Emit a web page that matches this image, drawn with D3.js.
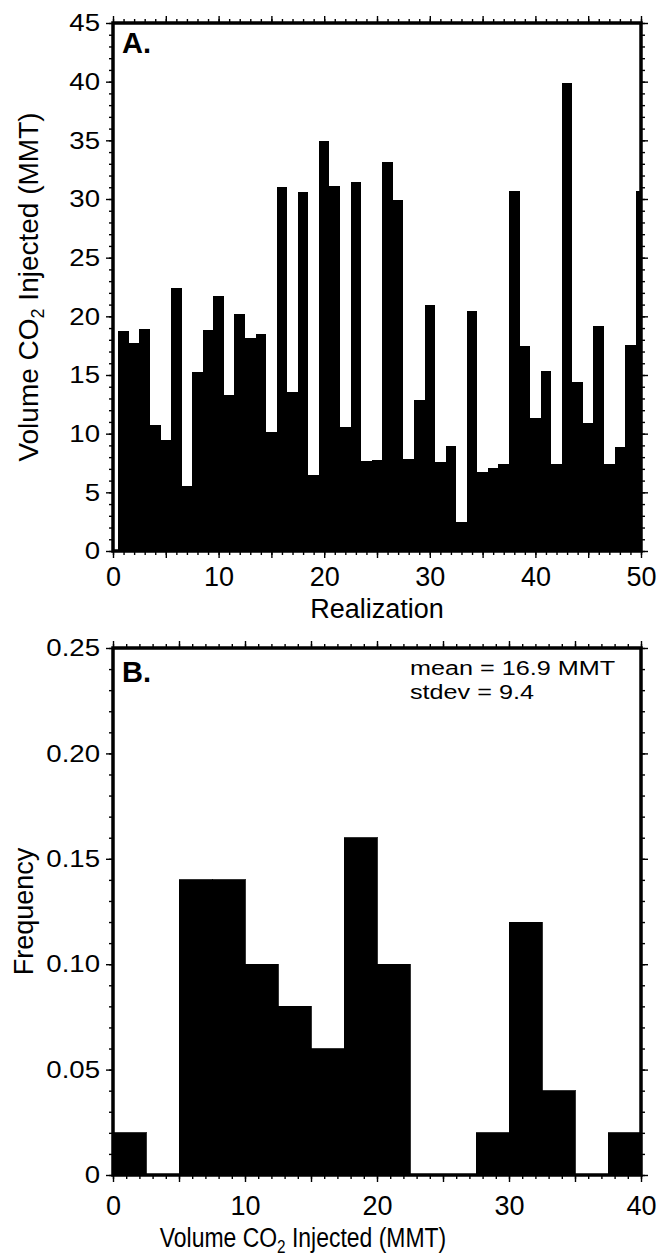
<!DOCTYPE html>
<html>
<head>
<meta charset="utf-8">
<script src="https://cdn.jsdelivr.net/npm/d3@7"></script>
<style>
body { margin: 0; background: #fff; }
svg { display: block; font-family: "Liberation Sans", Arial, Helvetica, sans-serif; }
</style>
</head>
<body>
<div id="wrapper"></div>
<script>
// panel A: injected volume for each realization (1..50)
const volumes = [
    18.75, 17.76, 18.92, 10.74, 9.46, 22.42, 5.57, 15.26, 18.84, 21.73,
    13.3, 20.2, 18.15, 18.49, 10.14, 31.02, 13.55, 30.6, 6.48, 34.94,
    31.1, 10.6, 31.45, 7.67, 7.76, 33.15, 29.9, 7.84, 12.87, 20.97,
    7.59, 8.95, 2.47, 20.45, 6.73, 7.07, 7.4, 30.68, 17.47, 11.34,
    15.34, 7.41, 39.89, 14.4, 10.91, 19.18, 7.45, 8.86, 17.56, 30.68,
]
const yLabelsA = [0, 5, 10, 15, 20, 25, 30, 35, 40, 45]
const xLabelsA = [0, 10, 20, 30, 40, 50]

// panel B: histogram of the same volumes
const binEdges = [0, 2.5, 5, 7.5, 10, 12.5, 15, 17.5, 20, 22.5, 25, 27.5, 30, 32.5, 35, 37.5, 40]
const frequency = [0.02, 0, 0.14, 0.14, 0.10, 0.08, 0.06, 0.16, 0.10, 0, 0, 0.02, 0.12, 0.04, 0, 0.02]
const yLabelsB = [0, 0.05, 0.10, 0.15, 0.20, 0.25]
const xLabelsB = [0, 10, 20, 30, 40]
const statsText = ["mean = 16.9 MMT", "stdev = 9.4"]

const dimensions = {
    width: 659,
    height: 1258,
    left: 113,
    right: 641,
    a: { top: 23, bottom: 551 },
    b: { top: 648, bottom: 1175 },
}

const svg = d3.select("#wrapper")
    .append("svg")
    .attr("width", dimensions.width)
    .attr("height", dimensions.height)

// tick marks on all four sides, major + minor, no labels
function drawTicks(g, x, y, xMajor, xMinor, yMajor, yMinor) {
    const [x0, x1] = x.range()
    const [y1, y0] = y.range()
    const add = (axis, tr, vals, size) => g.append("g")
        .attr("transform", tr)
        .call(axis.tickValues(vals).tickSize(size).tickFormat(""))
        .call(s => s.select(".domain").remove())
        .call(s => s.selectAll("line").attr("stroke-width", 1.4))
    add(d3.axisLeft(y), `translate(${x0},0)`, yMinor, 4)
    add(d3.axisLeft(y), `translate(${x0},0)`, yMajor, 7)
    add(d3.axisRight(y), `translate(${x1},0)`, yMinor, 4)
    add(d3.axisRight(y), `translate(${x1},0)`, yMajor, 7)
    add(d3.axisTop(x), `translate(0,${y0})`, xMinor, 4)
    add(d3.axisTop(x), `translate(0,${y0})`, xMajor, 7)
    add(d3.axisBottom(x), `translate(0,${y1})`, xMinor, 4)
    add(d3.axisBottom(x), `translate(0,${y1})`, xMajor, 7)
}

function drawLabels(g, x, y, xVals, yVals, yFmt, xBase) {
    const [x0] = x.range()
    const [y1] = y.range()
    g.append("g")
        .attr("transform", `translate(${x0},0)`)
        .call(d3.axisLeft(y).tickValues(yVals).tickSize(0).tickFormat(yFmt))
        .call(s => s.select(".domain").remove())
        .call(s => s.selectAll("text")
            .attr("x", -13 / 1.15)
            .attr("transform", "scale(1.15,1)")
            .style("font-size", "24px")
            .attr("fill", "#000"))
    g.append("g")
        .attr("transform", `translate(0,${y1})`)
        .call(d3.axisBottom(x).tickValues(xVals).tickSize(0).tickFormat(d3.format("d")))
        .call(s => s.select(".domain").remove())
        .call(s => s.selectAll("text")
            .attr("y", xBase)
            .attr("dy", null)
            .style("font-size", "27px")
            .attr("fill", "#000"))
}

function drawPanelA() {
    const xScale = d3.scaleLinear().domain([0, 50]).range([dimensions.left, dimensions.right])
    const yScale = d3.scaleLinear().domain([0, 45]).range([dimensions.a.bottom, dimensions.a.top])
    const g = svg.append("g")

    g.append("clipPath").attr("id", "clipA")
        .append("rect")
        .attr("x", dimensions.left).attr("y", dimensions.a.top)
        .attr("width", dimensions.right - dimensions.left)
        .attr("height", dimensions.a.bottom - dimensions.a.top)

    g.append("g")
        .attr("clip-path", "url(#clipA)")
        .selectAll("rect")
        .data(volumes)
        .enter()
        .append("rect")
        .attr("x", (d, i) => xScale(i + 0.5))
        .attr("width", (d, i) => xScale(i + 1.5) - xScale(i + 0.5))
        .attr("y", d => yScale(d))
        .attr("height", d => yScale(0) - yScale(d))
        .attr("fill", "#000")
        .attr("shape-rendering", "crispEdges")

    drawTicks(g, xScale, yScale, xScale.ticks(10), xScale.ticks(50), yScale.ticks(9), yScale.ticks(45))
    drawLabels(g, xScale, yScale, xLabelsA, yLabelsA, d3.format("d"), 35)

    g.append("rect")
        .attr("x", dimensions.left).attr("y", dimensions.a.top)
        .attr("width", dimensions.right - dimensions.left)
        .attr("height", dimensions.a.bottom - dimensions.a.top)
        .attr("fill", "none").attr("stroke", "#000").attr("stroke-width", 3.5)

    g.append("text")
        .attr("x", 122).attr("y", 53)
        .style("font-size", "29px").style("font-weight", "bold")
        .text("A.")

    const yt = g.append("text")
        .attr("transform", `translate(38,${(dimensions.a.top + dimensions.a.bottom) / 2}) rotate(-90)`)
        .attr("text-anchor", "middle")
        .style("font-size", "28px")
    yt.append("tspan").text("Volume CO")
    yt.append("tspan").attr("dy", 6).style("font-size", "18px").text("2")
    yt.append("tspan").attr("dy", -6).text(" Injected (MMT)")

    g.append("text")
        .attr("x", (dimensions.left + dimensions.right) / 2).attr("y", 618)
        .attr("text-anchor", "middle")
        .style("font-size", "27px")
        .text("Realization")
}

function drawPanelB() {
    const xScale = d3.scaleLinear().domain([0, 40]).range([dimensions.left, dimensions.right])
    const yScale = d3.scaleLinear().domain([0, 0.25]).range([dimensions.b.bottom, dimensions.b.top])
    const g = svg.append("g")

    g.append("g")
        .selectAll("rect")
        .data(frequency)
        .enter()
        .append("rect")
        .attr("x", (d, i) => xScale(binEdges[i]))
        .attr("width", (d, i) => xScale(binEdges[i + 1]) - xScale(binEdges[i]))
        .attr("y", d => yScale(d))
        .attr("height", d => yScale(0) - yScale(d))
        .attr("fill", "#000")
        .attr("stroke", "#000")
        .attr("stroke-width", 0.8)
        .attr("shape-rendering", "crispEdges")

    drawTicks(g, xScale, yScale, xScale.ticks(8), xScale.ticks(40), yScale.ticks(5), yScale.ticks(25))
    drawLabels(g, xScale, yScale, xLabelsB, yLabelsB, d => d === 0 ? "0" : d3.format(".2f")(d), 40)

    g.append("rect")
        .attr("x", dimensions.left).attr("y", dimensions.b.top)
        .attr("width", dimensions.right - dimensions.left)
        .attr("height", dimensions.b.bottom - dimensions.b.top)
        .attr("fill", "none").attr("stroke", "#000").attr("stroke-width", 3.5)

    g.append("text")
        .attr("x", 122).attr("y", 682)
        .style("font-size", "29px").style("font-weight", "bold")
        .text("B.")

    g.selectAll(".stat")
        .data(statsText)
        .enter()
        .append("text")
        .attr("class", "stat")
        .attr("transform", (d, i) => `translate(410,${675 + i * 24}) scale(1.2,1)`)
        .style("font-size", "21px")
        .text(d => d)

    g.append("text")
        .attr("transform", `translate(33,${(dimensions.b.top + dimensions.b.bottom) / 2}) rotate(-90)`)
        .attr("text-anchor", "middle")
        .style("font-size", "27px")
        .text("Frequency")

    const xt = g.append("text")
        .attr("transform", "translate(303,1247) scale(0.85,1)")
        .attr("text-anchor", "middle")
        .style("font-size", "27px")
    xt.append("tspan").text("Volume CO")
    xt.append("tspan").attr("dy", 6).style("font-size", "18px").text("2")
    xt.append("tspan").attr("dy", -6).text(" Injected (MMT)")
}

drawPanelA()
drawPanelB()
</script>
</body>
</html>
